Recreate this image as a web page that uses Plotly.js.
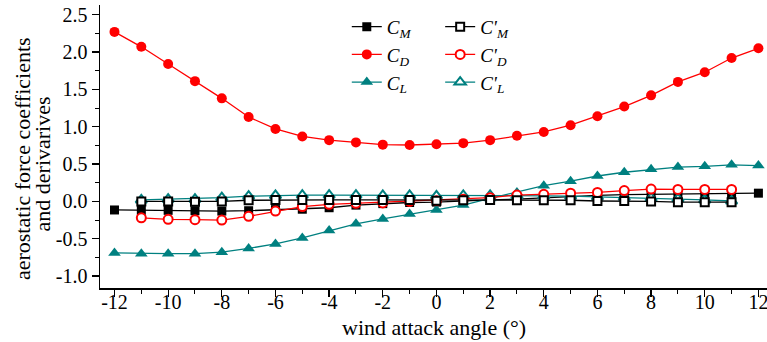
<!DOCTYPE html>
<html>
<head>
<meta charset="utf-8">
<script src="https://cdn.plot.ly/plotly-3.0.1.min.js"></script>
<style>html,body{margin:0;padding:0;background:#fff;}#chart{width:767px;height:342px;}</style>
</head>
<body>
<div id="chart"></div>
<script>
// wind attack angles
const angles = [-12,-11,-10,-9,-8,-7,-6,-5,-4,-3,-2,-1,0,1,2,3,4,5,6,7,8,9,10,11,12];
const anglesD = [-11,-10,-9,-8,-7,-6,-5,-4,-3,-2,-1,0,1,2,3,4,5,6,7,8,9,10,11];

// aerostatic force coefficients
const CM = [-0.115,-0.12,-0.12,-0.125,-0.13,-0.125,-0.11,-0.105,-0.085,-0.05,-0.03,-0.015,-0.01,0.01,0.02,0.03,0.05,0.07,0.08,0.09,0.095,0.1,0.1,0.1,0.11];
const CD = [2.27,2.07,1.84,1.61,1.38,1.13,0.97,0.87,0.82,0.79,0.76,0.755,0.765,0.78,0.82,0.88,0.93,1.02,1.14,1.27,1.42,1.60,1.73,1.92,2.05];
const CL = [-0.69,-0.70,-0.70,-0.70,-0.68,-0.63,-0.57,-0.49,-0.39,-0.30,-0.235,-0.17,-0.115,-0.05,0.04,0.12,0.21,0.27,0.34,0.39,0.43,0.46,0.47,0.49,0.48];

// derivatives
const CMd = [0.0,0.0,-0.005,0.0,0.015,0.02,0.02,0.02,0.02,0.02,0.02,0.01,0.015,0.02,0.015,0.015,0.015,0.005,0.005,0.0,-0.01,-0.01,-0.01];
const CDd = [-0.22,-0.24,-0.245,-0.25,-0.2,-0.13,-0.07,-0.04,-0.025,-0.02,0.0,0.01,0.03,0.05,0.085,0.095,0.11,0.12,0.145,0.165,0.16,0.16,0.16];
const CLd = [0.02,0.03,0.03,0.05,0.07,0.08,0.085,0.085,0.085,0.08,0.08,0.075,0.08,0.08,0.08,0.075,0.07,0.06,0.055,0.045,0.035,0.02,0.005];

// tick labels
const xTickVals = [-12,-10,-8,-6,-4,-2,0,2,4,6,8,10,12];
const xTickText = ['-12','-10','-8','-6','-4','-2','0','2','4','6','8','10','12'];
const yTickVals = [-1.0,-0.5,0,0.5,1.0,1.5,2.0,2.5];
const yTickText = ['-1.0','-0.5','0.0','0.5','1.0','1.5','2.0','2.5'];

// texts
const xTitle = 'wind attack angle (°)';
const yTitle1 = 'aerostatic force coefficients';
const yTitle2 = 'and derivarives';

const names = {
  CM: '<i>C</i><sub><i>M</i></sub>',
  CD: '<i>C</i><sub><i>D</i></sub>',
  CL: '<i>C</i><sub><i>L</i></sub>',
  CMd: "<i>C'</i><sub><i>M</i></sub>",
  CDd: "<i>C'</i><sub><i>D</i></sub>",
  CLd: "<i>C'</i><sub><i>L</i></sub>"
};

const black = '#000000', red = '#ff0000', teal = '#008080';

function tr(x, y, name, color, symbol, filled, legend, rank) {
  return {
    x: x, y: y, name: name, type: 'scatter', mode: 'lines+markers',
    line: {color: color, width: 1.3},
    marker: filled
      ? {symbol: symbol, size: symbol === 'circle' ? 10 : (symbol === 'square' ? 9 : 11), color: color, line: {width: 0}}
      : {symbol: symbol, size: symbol === 'circle' ? 9 : (symbol === 'square' ? 8 : 10), color: '#ffffff', line: {color: color, width: 2}},
    legend: legend, legendrank: rank
  };
}

const data = [
  tr(angles, CM, names.CM, black, 'square', true, 'legend', 1),
  tr(angles, CD, names.CD, red, 'circle', true, 'legend', 2),
  tr(angles, CL, names.CL, teal, 'triangle-up', true, 'legend', 3),
  tr(anglesD, CLd, names.CLd, teal, 'triangle-up', false, 'legend2', 3),
  tr(anglesD, CDd, names.CDd, red, 'circle', false, 'legend2', 2),
  tr(anglesD, CMd, names.CMd, black, 'square', false, 'legend2', 1)
];

const fontFam = 'Liberation Serif';
const legendBase = {
  bgcolor: 'rgba(0,0,0,0)', borderwidth: 0,
  font: {family: fontFam, size: 19, color: '#000'},
  yanchor: 'top', xanchor: 'left', tracegroupgap: 0, itemwidth: 30
};

const layout = {
  width: 767, height: 342,
  margin: {l: 100, r: 0, t: 5, b: 54},
  paper_bgcolor: '#fff', plot_bgcolor: '#fff',
  font: {family: fontFam, size: 20, color: '#000'},
  showlegend: true,
  legend: Object.assign({}, legendBase, {x: 0.37, y: 0.99}),
  legend2: Object.assign({}, legendBase, {x: 0.51, y: 0.99}),
  xaxis: {
    range: [-12.54, 12.32], tickmode: 'array', tickvals: xTickVals, ticktext: xTickText,
    ticks: 'outside', ticklen: 7, tickwidth: 1.3, tickcolor: '#000',
    minor: {dtick: 1, ticks: 'outside', ticklen: 4, tickwidth: 1, tickcolor: '#000'},
    showline: true, linecolor: '#000', linewidth: 1.5, showgrid: false, zeroline: false,
    tickfont: {family: fontFam, size: 20}, ticklabelstandoff: -12, ticklabeloverflow: 'allow'
  },
  yaxis: {
    range: [-1.16, 2.63], tickmode: 'array', tickvals: yTickVals, ticktext: yTickText,
    ticks: 'outside', ticklen: 7, tickwidth: 1.3, tickcolor: '#000',
    minor: {dtick: 0.25, ticks: 'outside', ticklen: 4, tickwidth: 1, tickcolor: '#000'},
    showline: true, linecolor: '#000', linewidth: 1.5, showgrid: false, zeroline: false,
    tickfont: {family: fontFam, size: 20}
  },
  annotations: [
    {text: xTitle, xref: 'paper', yref: 'paper', x: 0.5, y: -0.138, xanchor: 'center', yanchor: 'middle',
     showarrow: false, font: {family: fontFam, size: 22}},
    {text: yTitle1, xref: 'paper', yref: 'paper', x: -0.117, y: 0.459, xanchor: 'center', yanchor: 'middle',
     textangle: -90, showarrow: false, font: {family: fontFam, size: 22}},
    {text: yTitle2, xref: 'paper', yref: 'paper', x: -0.0855, y: 0.44, xanchor: 'center', yanchor: 'middle',
     textangle: -90, showarrow: false, font: {family: fontFam, size: 22}}
  ]
};

Plotly.newPlot('chart', data, layout, {displayModeBar: false, staticPlot: true});
</script>
</body>
</html>
